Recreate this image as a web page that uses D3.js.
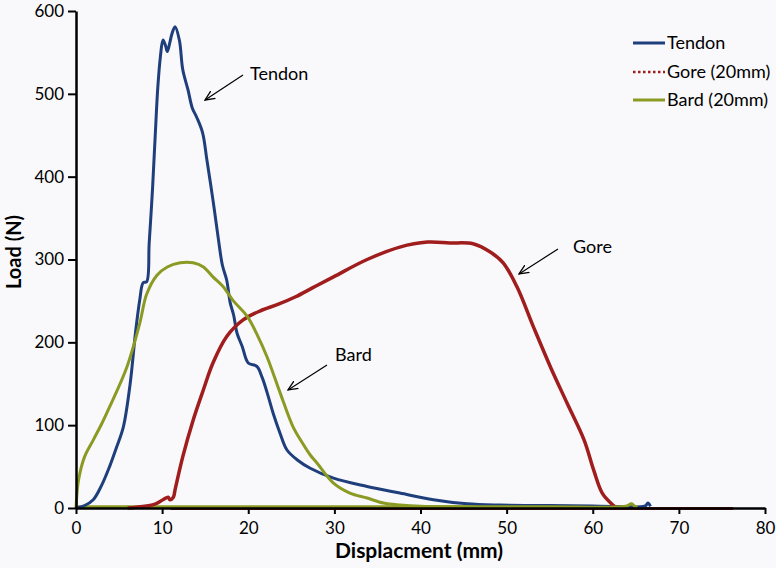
<!DOCTYPE html>
<html>
<head>
<meta charset="utf-8">
<script src="https://cdn.jsdelivr.net/npm/d3@7"></script>
<style>
body { margin: 0; background: #f9f8fb; }
svg { display: block; font-family: Lato, "Open Sans", sans-serif; }
</style>
</head>
<body>
<svg width="776" height="568"></svg>
<script>
// load-displacement curves, values
var tendon = [[0,0],[1,3],[2,10],[3,28],[3.9,50],[4.7,73],[5.5,98],[6.3,151],[6.9,211],[7.4,251],[7.8,272],[8.2,273],[8.5,320],[8.9,388],[9.2,450],[9.5,508],[9.8,545],[10.1,565],[10.4,558],[10.6,551],[10.9,562],[11.1,571],[11.5,581],[12.0,565],[12.4,529],[13.0,505],[13.5,483],[14.0,472],[14.7,453],[15.2,420],[15.9,372],[16.5,327],[17.0,293],[17.5,275],[17.9,248],[18.3,233],[18.7,211],[19.3,195],[20.0,175],[21.0,171],[21.6,158],[22.2,139],[22.9,114],[23.7,90],[24.5,70],[25.7,58],[27.2,48],[29.9,36],[33.8,26],[37.6,18],[41.5,10],[45.4,5],[49.2,3.5],[55,3],[60,2.5],[66.1,2.5],[66.4,6],[66.7,2]];

var bard = [[0,0],[0.3,34],[1.0,62],[2.0,82],[3.0,102],[3.9,122],[5.9,170],[7.4,223],[8.2,258],[9.4,281],[10.6,291],[12.1,296],[13.6,296],[14.8,291],[15.9,279],[17.1,267],[18.2,251],[19.9,231],[21.0,210],[22.2,182],[23.7,139],[25.2,98],[26.2,80],[27.2,64],[28.0,54],[29.9,30],[31.8,18],[33.8,12],[35.7,6],[37.6,3.6],[40,2],[45,1.5],[55,1.5],[63.8,2],[64.5,5],[64.9,2],[65.2,1.5]];
var bardBase = [[0,1.5],[65,1.5]];

var gore = [[6,0],[7,1],[9,4],[10.1,10],[10.7,13],[10.9,10],[11.3,13],[11.5,22],[12.4,62],[13.6,106],[14.8,143],[15.9,175],[17.5,207],[19.4,227],[21.4,238],[23.5,246],[25.5,255],[27.5,266],[29.9,279],[33.8,300],[37.6,315],[40.8,321],[43.4,320],[46.1,319],[48.1,309],[49.6,296],[51.2,267],[53.1,219],[55.1,170],[57,127],[59,82],[60.1,46],[61.1,18],[62.3,4],[62.8,0]];
var goreBase = [[11,-0.5],[76.3,-0.5]];

var xTicks = [0,10,20,30,40,50,60,70,80];
var yTicks = [0,100,200,300,400,500,600];

var legendNames = ["Tendon","Gore (20mm)","Bard (20mm)"];
var colors = {tendon:"#1f3e7c", gore:"#a01d1d", bard:"#8a9a22"};

var svg = d3.select("svg");

var x = d3.scaleLinear().domain([0,80]).range([76,765]);
var y = d3.scaleLinear().domain([0,600]).range([508,11]);

var line = d3.line()
	.x(function(d){ return x(d[0]); })
	.y(function(d){ return y(d[1]); })
	.curve(d3.curveCatmullRom.alpha(0.5));

// curves
svg.append("path").datum(goreBase).attr("d", line)
	.attr("fill","none").attr("stroke",colors.gore).attr("stroke-width",3);
svg.append("path").datum(bardBase).attr("d", line)
	.attr("fill","none").attr("stroke",colors.bard).attr("stroke-width",3);
svg.append("path").datum(tendon).attr("d", line)
	.attr("fill","none").attr("stroke",colors.tendon).attr("stroke-width",3).attr("stroke-linejoin","round");
svg.append("path").datum(gore).attr("d", line)
	.attr("fill","none").attr("stroke",colors.gore).attr("stroke-width",3.5).attr("stroke-linejoin","round");
svg.append("path").datum(bard).attr("d", line)
	.attr("fill","none").attr("stroke",colors.bard).attr("stroke-width",3).attr("stroke-linejoin","round");

// axes
var xAxis = svg.append("g").attr("transform","translate(0,508)")
	.call(d3.axisBottom(x).tickValues(xTicks).tickSize(6).tickPadding(8).tickSizeOuter(0));
var yAxis = svg.append("g").attr("transform","translate(76,0)")
	.call(d3.axisLeft(y).tickValues(yTicks).tickSize(8).tickPadding(4).tickSizeOuter(0));

[xAxis, yAxis].forEach(function(g){
	g.select(".domain").attr("stroke","#000").attr("stroke-width",2.5);
	g.selectAll(".tick line").attr("stroke","#000").attr("stroke-width",2);
	g.selectAll(".tick text").attr("fill","#000").style("font-size","17px").style("font-family","Lato, sans-serif");
});

svg.append("text").attr("x",419).attr("y",558).attr("text-anchor","middle")
	.style("font-size","21px").style("font-weight","bold").text("Displacment (mm)");
svg.append("text").attr("transform","translate(21,252) rotate(-90)").attr("text-anchor","middle")
	.style("font-size","20px").style("font-weight","bold").text("Load (N)");

// legend
var legend = svg.append("g");
legendNames.forEach(function(name,i){
	var ly = [43,72,100][i];
	var c = [colors.tendon, colors.gore, colors.bard][i];
	legend.append("line").attr("x1",633).attr("x2",665).attr("y1",ly).attr("y2",ly)
		.attr("stroke",c).attr("stroke-width",i==1 ? 2.5 : 3)
		.attr("stroke-dasharray", i==1 ? "2.5,2.5" : null);
	legend.append("text").attr("x",667).attr("y",ly+6).style("font-size","18px").text(name);
});

// annotations
svg.append("defs").append("marker").attr("id","arr")
	.attr("viewBox","0 0 10 10").attr("refX",9).attr("refY",5)
	.attr("markerWidth",9).attr("markerHeight",9).attr("orient","auto")
	.append("path").attr("d","M0,1 L9,5 L0,9").attr("fill","none").attr("stroke","#000").attr("stroke-width",1.2);

var notes = [
	{t:"Tendon", tx:250, ty:80, x1:243, y1:75, x2:205, y2:100},
	{t:"Gore", tx:573, ty:253, x1:558, y1:249, x2:519, y2:274},
	{t:"Bard", tx:335, ty:361, x1:327, y1:365, x2:288, y2:390}
];
notes.forEach(function(n){
	svg.append("text").attr("x",n.tx).attr("y",n.ty).style("font-size","18px").text(n.t);
	svg.append("line").attr("x1",n.x1).attr("y1",n.y1).attr("x2",n.x2).attr("y2",n.y2)
		.attr("stroke","#000").attr("stroke-width",1.2).attr("marker-end","url(#arr)");
});
</script>
</body>
</html>
